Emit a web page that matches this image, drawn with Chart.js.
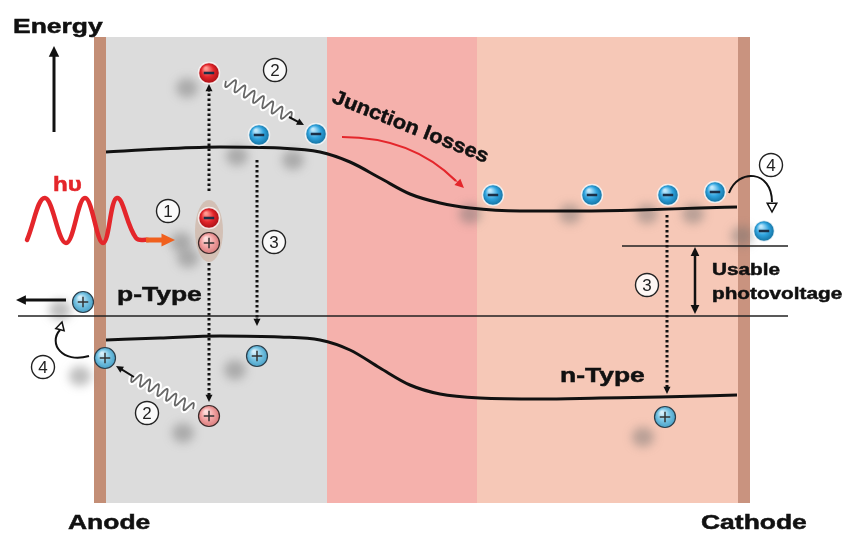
<!DOCTYPE html>
<html>
<head>
<meta charset="utf-8">
<script src="https://cdn.jsdelivr.net/npm/chart.js@4.4.0/dist/chart.umd.min.js"></script>
<style>
html, body { margin: 0; padding: 0; background: #fff; }
#wrap { width: 860px; height: 533px; }
</style>
</head>
<body>
<div id="wrap"><canvas id="diagrama" width="860" height="533"></canvas></div>
<script>
// capas del dispositivo: bordes en x (posicion) y colores
const capaBordes = [94, 106, 327, 477, 738, 750];
const capaColores = ['#c38e76', '#dcdcdc', '#f5b1ac', '#f6c8b7', '#c9937f'];
const capaLimites = [37, 503];

// banda de conduccion y banda de valencia (posicion, energia)
const bandaCondX = [106, 160, 220, 280, 320, 350, 380, 410, 440, 470, 520, 580, 640, 700, 737];
const bandaCondE = [152, 149, 147, 148, 152, 162, 178, 194, 203, 208, 211, 211, 210, 208, 207];
const bandaValX = [106, 160, 220, 280, 320, 350, 380, 410, 440, 480, 540, 600, 660, 737];
const bandaValE = [340, 338, 336, 337, 340, 350, 368, 385, 394, 398, 399, 398, 397, 395];

// niveles cuasi-Fermi
const fermiHuecosX = [18, 788];
const fermiHuecosE = [316, 316];
const fermiElecX = [622, 788];
const fermiElecE = [246, 246];

// foton incidente (hv)
const fotonX = [27, 45, 66, 85, 103, 117, 136, 148];
const fotonE = [240, 198, 243, 198, 243, 198, 238, 240];

// portadores
const electronesAzules = [[259, 135], [316, 134], [493, 195], [592, 195], [668, 195], [715, 192], [764, 231]];
const electronesCalientes = [[209, 73], [209, 218]];
const huecosAzules = [[83, 302], [105, 358], [257, 356], [665, 417]];
const huecosRosas = [[209, 243], [209, 416]];

// sombras difusas detras de los portadores
const sombras = [[187, 88], [237, 156], [293, 160], [181, 242], [188, 258], [235, 370], [60, 310], [80, 376],
                 [183, 433], [470, 214], [570, 214], [647, 214], [693, 214], [643, 437], [742, 236]];

// transiciones punteadas [x, desde, hasta]
const transiciones = [[209, 191, 84], [209, 263, 402], [257, 160, 326], [667, 215, 394]];

// numeros de proceso [x, y, texto]
const procesos = [[168, 211, '1'], [275, 70, '2'], [147, 413, '2'], [274, 242, '3'], [647, 285, '3'], [771, 165, '4'], [43, 367, '4']];

function puntos(xs, ys) {
    return xs.map((x, i) => ({ x: x, y: ys[i] }));
}
function pares(lista) {
    return lista.map(p => ({ x: p[0], y: p[1] }));
}

function flecha(ctx, x1, y1, x2, y2, tam, color, ancho) {
    const ang = Math.atan2(y2 - y1, x2 - x1);
    ctx.save();
    ctx.strokeStyle = color;
    ctx.fillStyle = color;
    ctx.lineWidth = ancho;
    ctx.beginPath();
    ctx.moveTo(x1, y1);
    ctx.lineTo(x2 - Math.cos(ang) * tam * 0.7, y2 - Math.sin(ang) * tam * 0.7);
    ctx.stroke();
    ctx.beginPath();
    ctx.moveTo(x2, y2);
    ctx.lineTo(x2 - tam * Math.cos(ang - 0.45), y2 - tam * Math.sin(ang - 0.45));
    ctx.lineTo(x2 - tam * Math.cos(ang + 0.45), y2 - tam * Math.sin(ang + 0.45));
    ctx.closePath();
    ctx.fill();
    ctx.restore();
}

function cabezaAbierta(ctx, x, y, ang, tam) {
    ctx.save();
    ctx.fillStyle = '#fff';
    ctx.strokeStyle = '#111';
    ctx.lineWidth = 1.5;
    ctx.beginPath();
    ctx.moveTo(x, y);
    ctx.lineTo(x - tam * Math.cos(ang - 0.5), y - tam * Math.sin(ang - 0.5));
    ctx.lineTo(x - tam * Math.cos(ang + 0.5), y - tam * Math.sin(ang + 0.5));
    ctx.closePath();
    ctx.fill();
    ctx.stroke();
    ctx.restore();
}

function texto(ctx, str, x, y, tam, color, rot, estirar) {
    ctx.save();
    ctx.translate(x, y);
    if (rot) ctx.rotate(rot);
    ctx.scale(estirar || 1.26, 1);
    ctx.font = 'bold ' + tam + 'px "Liberation Sans", Arial, sans-serif';
    ctx.fillStyle = color;
    ctx.strokeStyle = color;
    ctx.lineWidth = 0.5;
    ctx.textBaseline = 'alphabetic';
    ctx.fillText(str, 0, 0);
    ctx.strokeText(str, 0, 0);
    ctx.restore();
}

function esfera(ctx, x, y, r, base, claro, oscuro, signo, borde) {
    ctx.save();
    const g = ctx.createRadialGradient(x - r * 0.3, y - r * 0.45, r * 0.1, x, y, r);
    g.addColorStop(0, claro);
    g.addColorStop(0.55, base);
    g.addColorStop(1, oscuro);
    ctx.beginPath();
    ctx.arc(x, y, r, 0, Math.PI * 2);
    ctx.fillStyle = g;
    ctx.fill();
    ctx.lineWidth = borde ? 1.2 : 1.5;
    ctx.strokeStyle = borde || 'rgba(255,255,255,0.8)';
    ctx.stroke();
    ctx.strokeStyle = signo === '-' ? '#1b2f47' : '#333';
    ctx.lineWidth = signo === '-' ? 2.5 : 1.5;
    ctx.beginPath();
    ctx.moveTo(x - r * 0.5, y);
    ctx.lineTo(x + r * 0.5, y);
    if (signo === '+') {
        ctx.moveTo(x, y - r * 0.5);
        ctx.lineTo(x, y + r * 0.5);
    }
    ctx.stroke();
    ctx.restore();
}

function resorte(ctx, x1, y1, x2, y2, vueltas, amp) {
    const largo = Math.hypot(x2 - x1, y2 - y1);
    const ang = Math.atan2(y2 - y1, x2 - x1);
    const trazar = () => {
        ctx.beginPath();
        const pasos = vueltas * 16;
        for (let i = 0; i <= pasos; i++) {
            const t = i / pasos;
            const d = t * largo;
            const o = amp * Math.sin(t * vueltas * Math.PI * 2);
            const px = x1 + Math.cos(ang) * d - Math.sin(ang) * o;
            const py = y1 + Math.sin(ang) * d + Math.cos(ang) * o;
            if (i === 0) ctx.moveTo(px, py); else ctx.lineTo(px, py);
        }
    };
    ctx.save();
    ctx.lineJoin = 'round';
    trazar();
    ctx.strokeStyle = 'rgba(255,255,255,0.95)';
    ctx.lineWidth = 6;
    ctx.stroke();
    trazar();
    ctx.strokeStyle = '#666';
    ctx.lineWidth = 1.8;
    ctx.stroke();
    ctx.restore();
}

const pluginDiagrama = {
    id: 'diagrama',
    beforeDatasetsDraw(chart) {
        const ctx = chart.ctx;
        const sx = chart.scales.x, sy = chart.scales.y;
        const top = sy.getPixelForValue(capaLimites[0]);
        const bottom = sy.getPixelForValue(capaLimites[1]);
        for (let i = 0; i < capaColores.length; i++) {
            const a = sx.getPixelForValue(capaBordes[i]);
            const b = sx.getPixelForValue(capaBordes[i + 1]);
            ctx.fillStyle = capaColores[i];
            ctx.fillRect(a, top, b - a, bottom - top);
        }
        // sombras
        ctx.save();
        ctx.filter = 'blur(5px)';
        ctx.fillStyle = 'rgba(110,110,110,0.45)';
        sombras.forEach(s => {
            ctx.beginPath();
            ctx.ellipse(sx.getPixelForValue(s[0]), sy.getPixelForValue(s[1]), 11, 10, 0, 0, Math.PI * 2);
            ctx.fill();
        });
        ctx.restore();
    },
    afterDatasetsDraw(chart) {
        const ctx = chart.ctx;
        const sx = chart.scales.x, sy = chart.scales.y;
        const X = v => sx.getPixelForValue(v);
        const Y = v => sy.getPixelForValue(v);

        // transiciones punteadas
        transiciones.forEach(t => {
            const x = X(t[0]), y1 = Y(t[1]), y2 = Y(t[2]);
            const dir = Math.sign(y2 - y1);
            ctx.save();
            ctx.setLineDash([2.5, 2.5]);
            ctx.lineWidth = 3;
            ctx.strokeStyle = '#111';
            ctx.beginPath();
            ctx.moveTo(x, y1);
            ctx.lineTo(x, y2 - dir * 6);
            ctx.stroke();
            ctx.restore();
            flecha(ctx, x, y2 - dir * 8, x, y2, 8, '#111', 1);
        });

        // par electron-hueco (exciton)
        ctx.save();
        ctx.fillStyle = 'rgba(206,176,160,0.65)';
        ctx.beginPath();
        ctx.ellipse(X(209), Y(231), 14, 31, 0, 0, Math.PI * 2);
        ctx.fill();
        ctx.restore();

        // resortes (termalizacion)
        resorte(ctx, X(226), Y(81), X(291), Y(118), 7, 5.5);
        flecha(ctx, X(289), Y(117), X(304), Y(125), 8, '#111', 2);
        resorte(ctx, X(193), Y(409), X(132), Y(376), 7, 5.5);
        flecha(ctx, X(134), Y(377), X(116), Y(366), 8, '#111', 2);

        // portadores a partir de los datasets
        chart.data.datasets.forEach((ds, i) => {
            if (!ds.tipo) return;
            chart.getDatasetMeta(i).data.forEach(el => {
                if (ds.tipo === 'eAzul') esfera(ctx, el.x, el.y, 10.5, '#2fa3de', '#bfe8fb', '#13709f', '-');
                if (ds.tipo === 'eRojo') esfera(ctx, el.x, el.y, 10.5, '#e3252b', '#ff9a92', '#a80f14', '-');
                if (ds.tipo === 'hAzul') esfera(ctx, el.x, el.y, 10.5, '#78c3e2', '#d7f0fb', '#4aa2c8', '+', '#2c3e4a');
                if (ds.tipo === 'hRosa') esfera(ctx, el.x, el.y, 10.5, '#f2a3a3', '#fde0de', '#d97d7d', '+', '#3a2a2a');
            });
        });

        flecha(ctx, X(146), Y(240), X(175), Y(240), 15, '#f0601e', 5);

        // flecha de energia y salida de huecos
        flecha(ctx, X(54), Y(132), X(54), Y(46), 12, '#111', 3);
        flecha(ctx, X(66), Y(300), X(16), Y(300), 11, '#111', 3);

        // fotovoltaje util
        flecha(ctx, X(695), Y(280), X(695), Y(247), 10, '#111', 2.5);
        flecha(ctx, X(695), Y(280), X(695), Y(314), 10, '#111', 2.5);

        // perdidas en la union
        ctx.save();
        ctx.strokeStyle = '#e4262b';
        ctx.lineWidth = 2.2;
        ctx.beginPath();
        ctx.moveTo(X(342), Y(137));
        ctx.quadraticCurveTo(X(412), Y(137), X(456), Y(181));
        ctx.stroke();
        ctx.restore();
        flecha(ctx, X(452), Y(177), X(464), Y(188), 10, '#e4262b', 1);

        // flechas curvas de extraccion (4)
        ctx.save();
        ctx.strokeStyle = '#111';
        ctx.lineWidth = 2;
        ctx.beginPath();
        ctx.moveTo(X(729), Y(193));
        ctx.bezierCurveTo(X(738), Y(168), X(772), Y(170), X(772), Y(202));
        ctx.stroke();
        ctx.beginPath();
        ctx.moveTo(X(89), Y(356));
        ctx.bezierCurveTo(X(62), Y(364), X(48), Y(343), X(60), Y(330));
        ctx.stroke();
        ctx.restore();
        cabezaAbierta(ctx, X(772), Y(212), Math.PI / 2, 10);
        cabezaAbierta(ctx, X(62), Y(322), -Math.PI / 2.4, 9);

        // numeros encerrados en circulo
        procesos.forEach(p => {
            const x = X(p[0]), y = Y(p[1]);
            ctx.save();
            ctx.beginPath();
            ctx.arc(x, y, 11.5, 0, Math.PI * 2);
            ctx.fillStyle = 'rgba(255,255,255,0.85)';
            ctx.fill();
            ctx.strokeStyle = '#222';
            ctx.lineWidth = 1.4;
            ctx.stroke();
            ctx.font = '17px "Liberation Sans", Arial, sans-serif';
            ctx.fillStyle = '#222';
            ctx.textAlign = 'center';
            ctx.textBaseline = 'middle';
            ctx.fillText(p[2], x, y + 1);
            ctx.restore();
        });

        // textos
        texto(ctx, 'Energy', X(13), Y(33), 21, '#111');
        texto(ctx, 'h\u03C5', X(53), Y(191), 21, '#e4262b', 0, 1.15);
        texto(ctx, 'Junction losses', X(331), Y(102), 20, '#111', 0.375, 1.1);
        texto(ctx, 'p-Type', X(117), Y(301), 21, '#111');
        texto(ctx, 'n-Type', X(560), Y(382), 21, '#111');
        texto(ctx, 'Usable', X(712), Y(275), 17, '#111', 0, 1.22);
        texto(ctx, 'photovoltage', X(712), Y(299), 17, '#111', 0, 1.22);
        texto(ctx, 'Anode', X(68), Y(529), 21, '#111');
        texto(ctx, 'Cathode', X(701), Y(529), 21, '#111');
    }
};

const datasets = [
    { label: 'Banda de conduccion', data: puntos(bandaCondX, bandaCondE), showLine: true, borderColor: '#111', borderWidth: 3, pointRadius: 0, cubicInterpolationMode: 'monotone' },
    { label: 'Banda de valencia', data: puntos(bandaValX, bandaValE), showLine: true, borderColor: '#111', borderWidth: 3, pointRadius: 0, cubicInterpolationMode: 'monotone' },
    { label: 'Fermi huecos', data: puntos(fermiHuecosX, fermiHuecosE), showLine: true, borderColor: '#222', borderWidth: 1.5, pointRadius: 0 },
    { label: 'Fermi electrones', data: puntos(fermiElecX, fermiElecE), showLine: true, borderColor: '#222', borderWidth: 1.5, pointRadius: 0 },
    { label: 'Foton', data: puntos(fotonX, fotonE), showLine: true, borderColor: '#e4262b', borderWidth: 4.5, pointRadius: 0, tension: 0.4, borderCapStyle: 'round', borderJoinStyle: 'round' },
    { label: 'Electrones', data: pares(electronesAzules), pointRadius: 0, tipo: 'eAzul' },
    { label: 'Electrones calientes', data: pares(electronesCalientes), pointRadius: 0, tipo: 'eRojo' },
    { label: 'Huecos', data: pares(huecosAzules), pointRadius: 0, tipo: 'hAzul' },
    { label: 'Huecos calientes', data: pares(huecosRosas), pointRadius: 0, tipo: 'hRosa' }
];

new Chart(document.getElementById('diagrama'), {
    type: 'scatter',
    data: { datasets: datasets },
    options: {
        responsive: false,
        animation: false,
        layout: { padding: 0 },
        plugins: { legend: { display: false }, tooltip: { enabled: false } },
        scales: {
            x: { type: 'linear', min: 0, max: 860, display: false },
            y: { type: 'linear', min: 0, max: 533, reverse: true, display: false }
        }
    },
    plugins: [pluginDiagrama]
});
</script>
</body>
</html>
